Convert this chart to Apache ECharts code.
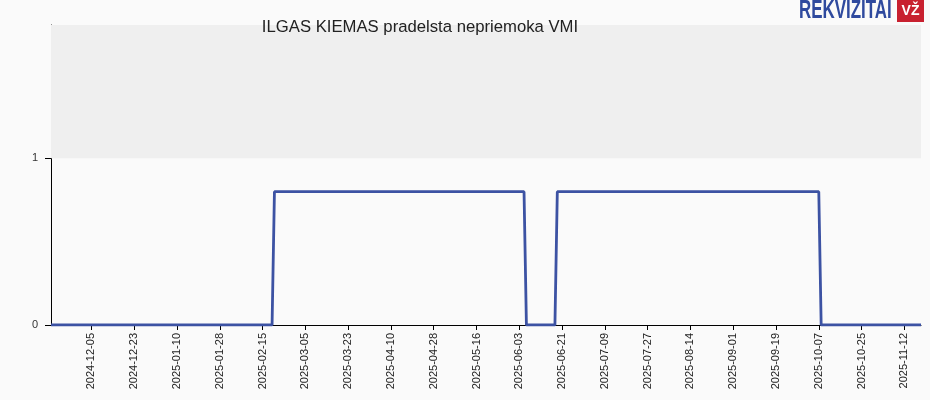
<!DOCTYPE html>
<html><head><meta charset="utf-8">
<script src="https://cdn.jsdelivr.net/npm/echarts@6/dist/echarts.min.js"></script>
<style>html,body{margin:0;padding:0;background:#fafafa}#c{width:930px;height:400px}</style>
</head><body><div id="c"></div>
<script>
const titleText = 'ILGAS KIEMAS pradelsta nepriemoka VMI';
const changeDates = ['2024-11-18','2025-02-19','2025-02-20','2025-06-05','2025-06-06','2025-06-18','2025-06-19','2025-10-07','2025-10-08','2025-11-19'];
const changeValues = [0, 0, 0.8, 0.8, 0, 0, 0.8, 0.8, 0, 0];
const tickDates = ['2024-12-05','2024-12-23','2025-01-10','2025-01-28','2025-02-15','2025-03-05','2025-03-23','2025-04-10','2025-04-28','2025-05-16','2025-06-03','2025-06-21','2025-07-09','2025-07-27','2025-08-14','2025-09-01','2025-09-19','2025-10-07','2025-10-25','2025-11-12'];
const yTicks = [0, 1];

function ts(s){const p=s.split('-').map(Number);return new Date(p[0],p[1]-1,p[2]).getTime();}
function fmt(v){const d=new Date(v);const m=String(d.getMonth()+1).padStart(2,'0');const dd=String(d.getDate()).padStart(2,'0');return d.getFullYear()+'-'+m+'-'+dd;}

const chart = echarts.init(document.getElementById('c'), null, {renderer:'canvas'});
chart.setOption({
  backgroundColor:'#fafafa',
  animation:false,
  title:{text:titleText,left:415,top:14,textAlign:'center',textStyle:{fontFamily:'Liberation Sans, Arial, sans-serif',fontSize:16.7,fontWeight:'normal',color:'#222'}},
  grid:{left:51,right:9,top:25,bottom:75,show:false},
  xAxis:{type:'value',min:ts('2024-11-18'),max:ts('2025-11-19'),
    axisLine:{show:true,onZero:false,lineStyle:{color:'#000',width:1}},
    axisTick:{show:true,customValues:tickDates.map(ts),length:5,lineStyle:{color:'#000'}},
    axisLabel:{customValues:tickDates.map(ts),rotate:90,formatter:fmt,fontFamily:'Liberation Sans, Arial, sans-serif',fontSize:11,color:'#222',margin:8},
    splitLine:{show:false}},
  yAxis:{type:'value',min:0,max:1.8,
    axisLine:{show:true,onZero:false,lineStyle:{color:'#000',width:1}},
    axisTick:{show:true,customValues:yTicks,length:6,lineStyle:{color:'#000'}},
    axisLabel:{customValues:yTicks,fontFamily:'Liberation Sans, Arial, sans-serif',fontSize:11,color:'#333',margin:13},
    splitLine:{show:false}},
  series:[{type:'line',showSymbol:false,symbol:'none',
    data:changeDates.map((d,i)=>[ts(d),changeValues[i]]),
    lineStyle:{color:'#3c52a3',width:2.8},
    markArea:{silent:true,itemStyle:{color:'#efefef'},data:[[{yAxis:1},{yAxis:1.8}]]}
  }],
  graphic:[
    {type:'text',x:799,y:11,scaleX:0.65,style:{text:'REKVIZITAI',font:'bold 26px "Liberation Sans", Arial',fill:'#2f4a9e',textVerticalAlign:'middle',textAlign:'left'}},
    {type:'rect',shape:{x:897,y:0,width:27,height:22},style:{fill:'#c8202f'}},
    {type:'text',x:910.5,y:11.5,style:{text:'VŽ',font:'bold 14px "Liberation Sans", Arial',fill:'#fff',textAlign:'center',textVerticalAlign:'middle'}}
  ]
});
</script></body></html>
